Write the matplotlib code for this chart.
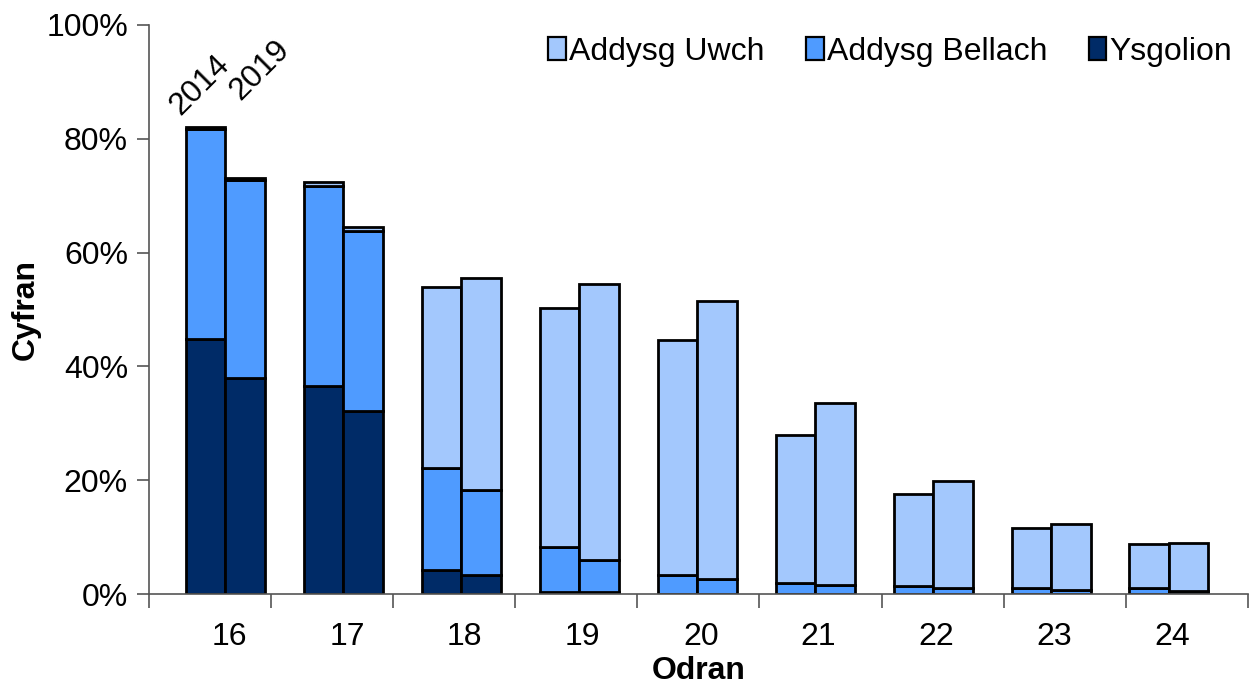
import matplotlib.pyplot as plt
import numpy as np
from matplotlib.patches import Patch

plt.rcParams['font.family'] = ['Liberation Sans', 'DejaVu Sans']

ages = ['16', '17', '18', '19', '20', '21', '22', '23', '24']
years = ['2014', '2019']

# percentages per age, 2014 then 2019
ysgolion_2014 = [44.8, 36.6, 4.2, 0.4, 0.1, 0.0, 0.0, 0.0, 0.0]
bellach_2014 = [37.0, 35.1, 17.9, 7.9, 3.2, 2.0, 1.5, 1.1, 1.1]
uwch_2014 = [0.3, 0.7, 31.9, 42.0, 41.3, 25.9, 16.0, 10.5, 7.7]

ysgolion_2019 = [38.0, 32.2, 3.3, 0.3, 0.1, 0.0, 0.0, 0.0, 0.0]
bellach_2019 = [34.8, 31.6, 14.9, 5.6, 2.5, 1.6, 1.05, 0.8, 0.6]
uwch_2019 = [0.3, 0.7, 37.3, 48.6, 48.9, 32.0, 18.75, 11.6, 8.4]

c_uwch = '#a3c8fd'
c_bellach = '#4f9bff'
c_ysg = '#002b67'

fs = 23

fig = plt.figure(figsize=(12.5, 6.86), dpi=100)
ax = fig.add_axes([0.119, 0.134, 0.8794, 0.8296])

x = np.arange(len(ages))
w = 0.335
kw = dict(width=w, edgecolor='black', linewidth=2.0, align='edge')

for xs, ysg, bel, uw in [(x - w, ysgolion_2014, bellach_2014, uwch_2014),
                         (x, ysgolion_2019, bellach_2019, uwch_2019)]:
    ysg = np.array(ysg)
    bel = np.array(bel)
    uw = np.array(uw)
    ax.bar(xs, ysg, color=c_ysg, **kw)
    ax.bar(xs, bel, bottom=ysg, color=c_bellach, **kw)
    ax.bar(xs, uw, bottom=ysg + bel, color=c_uwch, **kw)

xlim = (-0.65, 8.67)
ax.set_xlim(*xlim)
ax.set_ylim(0, 100)

ax.set_yticks(np.arange(0, 101, 20))
ax.set_yticklabels([f'{v}%' for v in range(0, 101, 20)])
ax.set_xticks(x + 0.03)
ax.set_xticklabels(ages)
ax.set_xticks(np.linspace(xlim[0], xlim[1], 10), minor=True)
ax.tick_params(axis='x', which='major', length=0, pad=20, labelsize=fs)
ax.tick_params(axis='x', which='minor', length=10, direction='out', color='#555555', width=1.2)
ax.tick_params(axis='y', length=9, direction='out', color='#555555', width=1.2, labelsize=fs, pad=6)

for s in ['top', 'right']:
    ax.spines[s].set_visible(False)
for s in ['left', 'bottom']:
    ax.spines[s].set_color('#555555')
    ax.spines[s].set_linewidth(1.2)

ax.set_ylabel('Cyfran', fontsize=fs, fontweight='bold', labelpad=4)
ax.set_xlabel('Odran', fontsize=fs, fontweight='bold', labelpad=3)

# year labels above first group
ax.text(-0.22, 89.5, years[0], rotation=45, fontsize=fs,
        ha='center', va='center', rotation_mode='anchor')
ax.text(0.29, 92.0, years[1], rotation=45, fontsize=fs,
        ha='center', va='center', rotation_mode='anchor')

handles = [Patch(facecolor=c_uwch, edgecolor='black', linewidth=1.6),
           Patch(facecolor=c_bellach, edgecolor='black', linewidth=1.6),
           Patch(facecolor=c_ysg, edgecolor='black', linewidth=1.6)]
ax.legend(handles, ['Addysg Uwch', 'Addysg Bellach', 'Ysgolion'], ncol=3,
          loc='upper right', bbox_to_anchor=(1.012, 1.03), frameon=False,
          fontsize=fs, handlelength=0.55, handleheight=0.75, handletextpad=0.1,
          columnspacing=1.3)

plt.savefig('out.png', dpi=100)
